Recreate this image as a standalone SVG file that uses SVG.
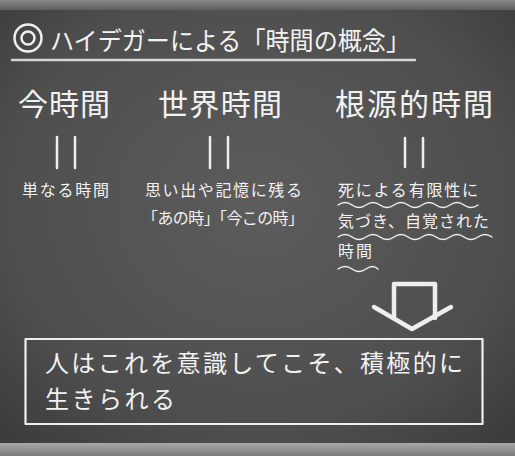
<svg xmlns="http://www.w3.org/2000/svg" width="515" height="456" viewBox="0 0 515 456">
<defs>
<radialGradient id="bg" cx="0.5" cy="0.45" r="0.7">
<stop offset="0" stop-color="#5c5c5c"/>
<stop offset="0.7" stop-color="#4e4e4e"/>
<stop offset="1" stop-color="#3c3c3c"/>
</radialGradient>
<linearGradient id="ledge" x1="0" y1="0" x2="0" y2="1">
<stop offset="0" stop-color="#a8a8a8"/>
<stop offset="1" stop-color="#7a7a7a"/>
</linearGradient>
<linearGradient id="top" x1="0" y1="0" x2="0" y2="1">
<stop offset="0" stop-color="#8a8a8a"/>
<stop offset="1" stop-color="#5e5e5e"/>
</linearGradient>
</defs>
<style>
.t{fill:#f2f2f2;font-family:"Noto Sans CJK JP","Noto Sans",sans-serif;}
.h{font-size:30px;}
.s{font-size:16px;}
.b{font-size:24px;}
.ch{stroke:#eeeeee;fill:none;stroke-linecap:round;stroke-linejoin:round;}
</style>
<rect width="515" height="456" fill="url(#bg)"/>
<rect width="515" height="10" fill="url(#top)"/>
<rect y="443" width="515" height="13" fill="url(#ledge)"/>

<g id="title">
<circle cx="28" cy="38" r="13.5" class="ch" stroke-width="2.5"/>
<circle cx="28" cy="38" r="6.5" class="ch" stroke-width="2.5"/>
<text class="t" x="50" y="50" font-size="25" textLength="360" lengthAdjust="spacingAndGlyphs">ハイデガーによる「時間の概念」</text>
<line x1="12" y1="60" x2="415" y2="60" class="ch" stroke-width="2.5" stroke-opacity="0.85"/>
</g>

<g id="ima">
<text class="t h" x="18" y="115" textLength="92">今時間</text>
<text class="t s" x="22" y="196" textLength="87">単なる時間</text>
</g>

<g id="sekai">
<text class="t h" x="158" y="115" textLength="124">世界時間</text>
<text class="t s" x="145" y="196" textLength="157">思い出や記憶に残る</text>
<text class="t s" x="142" y="224" textLength="162">「あの時」「今この時」</text>
</g>

<g id="kongen">
<text class="t h" x="335" y="115" textLength="158">根源的時間</text>
<text class="t s" x="338" y="196" textLength="140">死による有限性に</text>
<text class="t s" x="338" y="227" textLength="151">気づき、自覚された</text>
<text class="t s" x="338" y="257" textLength="34">時間</text>
<path class="ch" stroke-width="1.5" d="M338,205 q7,-5 14,0 t14,0 t14,0 t14,0 t14,0 t14,0 t14,0 t14,0 t14,0 t14,0"/>
<path class="ch" stroke-width="1.5" d="M338,237 q7,-5 14,0 t14,0 t14,0 t14,0 t14,0 t14,0 t14,0 t14,0 t14,0 t14,0 t14,0"/>
<path class="ch" stroke-width="1.5" d="M338,269 q7,-5 14,0 t14,0 t12,0"/>
</g>

<g id="connectors">
<line x1="57" y1="137" x2="57" y2="168" class="ch" stroke-width="2.5"/>
<line x1="75" y1="137" x2="75" y2="168" class="ch" stroke-width="2.5"/>
<line x1="210" y1="137" x2="210" y2="168" class="ch" stroke-width="2.5"/>
<line x1="228" y1="137" x2="228" y2="168" class="ch" stroke-width="2.5"/>
<line x1="405" y1="138" x2="405" y2="167" class="ch" stroke-width="2.5"/>
<line x1="423" y1="138" x2="423" y2="167" class="ch" stroke-width="2.5"/>
<polyline class="ch" stroke-width="4.5" points="394,318 394,284 435,284 435,318"/>
<polyline class="ch" stroke-width="4.5" points="374,307 412,329 451,307"/>
</g>

<g id="conclusion">
<rect x="25.5" y="339" width="457" height="85" class="ch" stroke-width="2.2"/>
<text class="t b"><tspan x="45" y="372" textLength="418">人はこれを意識してこそ、積極的に</tspan><tspan x="45" y="408" textLength="130">生きられる</tspan></text>
</g>
</svg>
